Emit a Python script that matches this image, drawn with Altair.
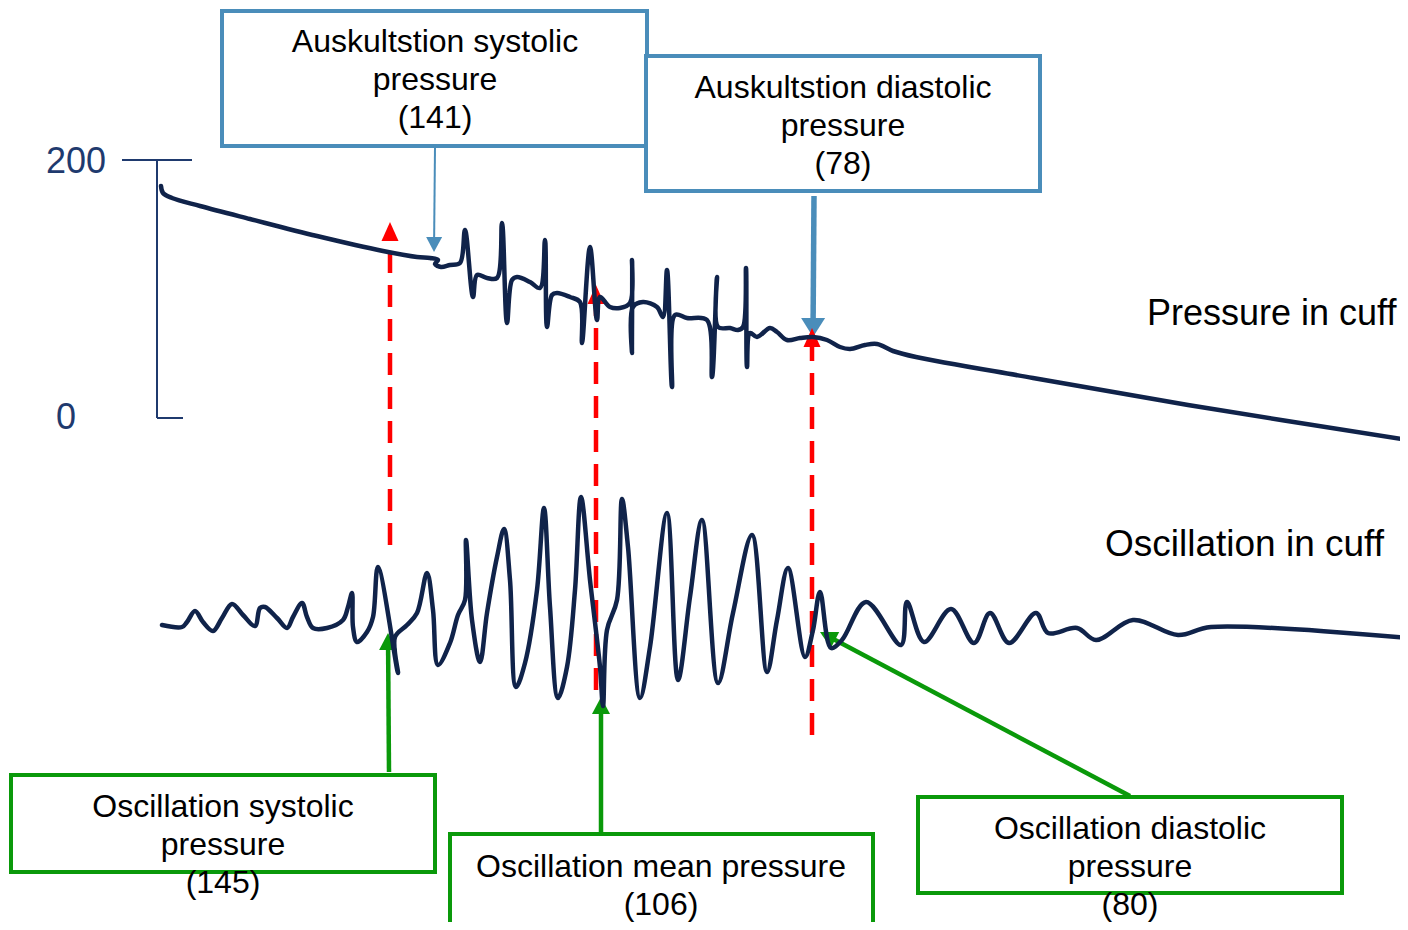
import math
import altair as alt
import pandas as pd

# ---------------- data (diagram units, y grows downward) ----------------
pressure_x = [161, 163, 172, 200, 250, 317, 383, 417, 430, 438, 435, 441, 450, 460, 465, 473, 477, 487, 497,
              502, 507, 512, 517, 530, 540, 545, 547, 552, 557, 570, 580, 582, 590, 597, 600, 610, 620, 630,
              632, 632, 633, 643, 657, 663, 667, 672, 675, 687, 707, 712, 717, 718, 730, 738, 743, 746, 747,
              750, 757, 770, 777, 787, 800, 813, 827, 840, 850, 865, 877, 893, 916, 1033, 1188, 1408]
pressure_y = [186, 193, 198, 206, 219, 236, 251, 257, 258, 260, 264, 267, 265, 263, 230, 297, 275, 278, 278,
              223, 323, 280, 277, 282, 288, 240, 327, 295, 293, 297, 302, 343, 247, 320, 297, 307, 308, 303,
              260, 353, 307, 302, 307, 317, 270, 387, 315, 318, 320, 377, 277, 327, 328, 330, 327, 268, 367,
              333, 337, 328, 332, 340, 338, 337, 340, 347, 349, 345, 344, 351, 357, 378, 405, 440]

osc_x = [162, 182, 187, 195, 203, 213, 222, 232, 243, 255, 260, 265, 277, 287, 293, 302, 307, 313, 327, 343,
         348, 352, 353, 357, 367, 373, 378, 398, 395, 407, 417, 427, 433, 438, 450, 458, 465, 466, 472, 480,
         487, 497, 504, 510, 516, 525, 537, 544, 550, 558, 567, 575, 581, 590, 600, 603, 607, 617, 622, 628,
         640, 650, 667, 678, 690, 702, 718, 733, 752, 767, 777, 788, 805, 813, 820, 831, 842, 866, 901, 907,
         924, 951, 974, 990, 1009, 1036, 1048, 1077, 1096, 1133, 1178, 1211, 1408]
osc_y = [625, 627, 622, 611, 622, 631, 618, 604, 615, 626, 608, 607, 618, 628, 617, 603, 617, 628, 628, 620,
         607, 593, 627, 642, 632, 617, 567, 673, 637, 625, 613, 573, 610, 665, 643, 615, 600, 540, 620, 662,
         613, 557, 529, 580, 687, 663, 590, 508, 607, 698, 667, 590, 497, 580, 667, 706, 630, 600, 499, 547,
         698, 647, 513, 680, 597, 520, 683, 613, 535, 672, 620, 568, 657, 630, 592, 648, 640, 602, 645, 602,
         642, 609, 643, 613, 643, 613, 633, 628, 640, 620, 635, 627, 638]

# scale bracket at the left
scale_labels = ["200", "0"]
scale_label_x = [76, 66]
scale_label_y = [162, 418]
bracket_x0 = [122, 157, 157]
bracket_x1 = [192, 157, 183]
bracket_y0 = [160, 160, 418]
bracket_y1 = [160, 418, 418]

# annotation boxes
box_kind = ["auscultation", "auscultation", "oscillation", "oscillation", "oscillation"]
box_x0 = [222, 646, 11, 450, 918]
box_x1 = [647, 1040, 435, 873, 1342]
box_y0 = [11, 56, 775, 834, 797]
box_y1 = [146, 191, 872, 945, 893]

box_lines = ["Auskultstion systolic", "pressure", "(141)",
             "Auskultstion diastolic", "pressure", "(78)",
             "Oscillation systolic", "pressure", "(145)",
             "Oscillation mean pressure", "(106)",
             "Oscillation diastolic", "pressure", "(80)"]
box_line_x = [435, 435, 435, 843, 843, 843, 223, 223, 223, 661, 661, 1130, 1130, 1130]
box_line_y = [42, 80, 118, 88, 126, 164, 807, 845, 883, 867, 905, 829, 867, 905]

trace_labels = ["Pressure in cuff", "Oscillation in cuff"]
trace_label_x = [1147, 1105]
trace_label_y = [314, 545]
trace_label_size = [36, 37]

# arrows: tail -> tip
blue_thin_tail = [(435, 147)]
blue_thin_tip = [(434, 252)]
blue_thick_tail = [(814, 196)]
blue_thick_tip = [(813, 337)]
red_tail = [(390, 545), (596, 690), (812, 735)]
red_tip = [(390, 222), (596, 285), (812, 328)]
green_tail = [(389, 772), (601, 832), (1130, 796)]
green_tip = [(388, 633), (601, 697), (820, 632)]

NAVY = "#10234A"
BRACKET = "#1F3A6E"
BLUE = "#4A8DBA"
GREEN = "#0A990A"
RED = "#FF0000"
FONT = "Liberation Sans"

W, H = 1392, 914
xs = alt.Scale(domain=[8, 8 + W], nice=False, zero=False)
ys = alt.Scale(domain=[8, 8 + H], nice=False, zero=False, reverse=True)


def X(f="x"):
    return alt.X(f"{f}:Q", scale=xs, axis=None)


def Y(f="y"):
    return alt.Y(f"{f}:Q", scale=ys, axis=None)


def trace(xv, yv):
    df = pd.DataFrame({"x": xv, "y": yv, "i": range(len(xv))})
    return alt.Chart(df).mark_line(color=NAVY, strokeWidth=4.5, interpolate="catmull-rom",
                                   strokeCap="round", strokeJoin="round").encode(
        x=X(), y=Y(), order=alt.Order("i:Q"))


def arrow(tails, tips, color, shaft_w, head_w, head_l, dash=None):
    rows = []
    for (x0, y0), (x1, y1) in zip(tails, tips):
        dx, dy = x1 - x0, y1 - y0
        n = math.hypot(dx, dy)
        rows.append({"x": x0, "y": y0, "x2": x1 - dx / n * head_l * 0.85,
                     "y2": y1 - dy / n * head_l * 0.85,
                     "tx": x1, "ty": y1,
                     "angle": math.degrees(math.atan2(dx, -dy)) % 360})
    df = pd.DataFrame(rows)
    rule_kw = dict(color=color, strokeWidth=shaft_w)
    if dash:
        rule_kw["strokeDash"] = dash
    shaft = alt.Chart(df).mark_rule(**rule_kw).encode(
        x=X(), y=Y(), x2="x2:Q", y2="y2:Q")
    r = head_l / head_w
    head = alt.Chart(df).mark_point(
        shape=f"M0,0L-0.5,{r:.3f}L0.5,{r:.3f}Z", filled=True, opacity=1,
        color=color, size=4 * head_w ** 2, strokeWidth=0).encode(
        x=X("tx"), y=Y("ty"), angle=alt.Angle("angle:Q", scale=None))
    return [shaft, head]


boxes_df = pd.DataFrame({"kind": box_kind, "x": box_x0, "x2": box_x1, "y": box_y0, "y2": box_y1})
boxes = alt.Chart(boxes_df).mark_rect(fill="white", strokeWidth=4).encode(
    x=X(), x2="x2:Q", y=Y(), y2="y2:Q",
    stroke=alt.Stroke("kind:N", scale=alt.Scale(domain=["auscultation", "oscillation"],
                                                range=[BLUE, GREEN]), legend=None))

box_text = alt.Chart(pd.DataFrame({"t": box_lines, "x": box_line_x, "y": box_line_y})).mark_text(
    font=FONT, fontSize=32, color="black", align="center", baseline="middle").encode(
    x=X(), y=Y(), text="t:N")

trace_text = alt.Chart(pd.DataFrame({"t": trace_labels, "x": trace_label_x, "y": trace_label_y,
                                     "s": trace_label_size})).mark_text(
    font=FONT, color="black", align="left", baseline="middle").encode(
    x=X(), y=Y(), text="t:N", size=alt.Size("s:Q", scale=None, legend=None))

scale_text = alt.Chart(pd.DataFrame({"t": scale_labels, "x": scale_label_x, "y": scale_label_y})).mark_text(
    font=FONT, fontSize=36, color=BRACKET, align="center", baseline="middle").encode(
    x=X(), y=Y(), text="t:N")

bracket = alt.Chart(pd.DataFrame({"x": bracket_x0, "x2": bracket_x1, "y": bracket_y0, "y2": bracket_y1})).mark_rule(
    color=BRACKET, strokeWidth=2).encode(x=X(), x2="x2:Q", y=Y(), y2="y2:Q")

layers = [bracket, scale_text]
layers += arrow(blue_thin_tail, blue_thin_tip, BLUE, 2, 16, 15)
layers += arrow(blue_thick_tail, blue_thick_tip, BLUE, 5.5, 24, 19)
layers += arrow(red_tail, red_tip, RED, 4.5, 17, 19, dash=[22, 12])
layers += arrow(green_tail, green_tip, GREEN, 4.5, 18, 17)
layers += [trace(pressure_x, pressure_y), trace(osc_x, osc_y)]
layers += [boxes, box_text, trace_text]

chart = alt.layer(*layers).properties(
    width=W, height=H, padding=0, autosize=alt.AutoSizeParams(type="none"),
    background="white").configure_view(stroke=None)

chart.save("out.html", embed_options={"renderer": "svg", "actions": False})
